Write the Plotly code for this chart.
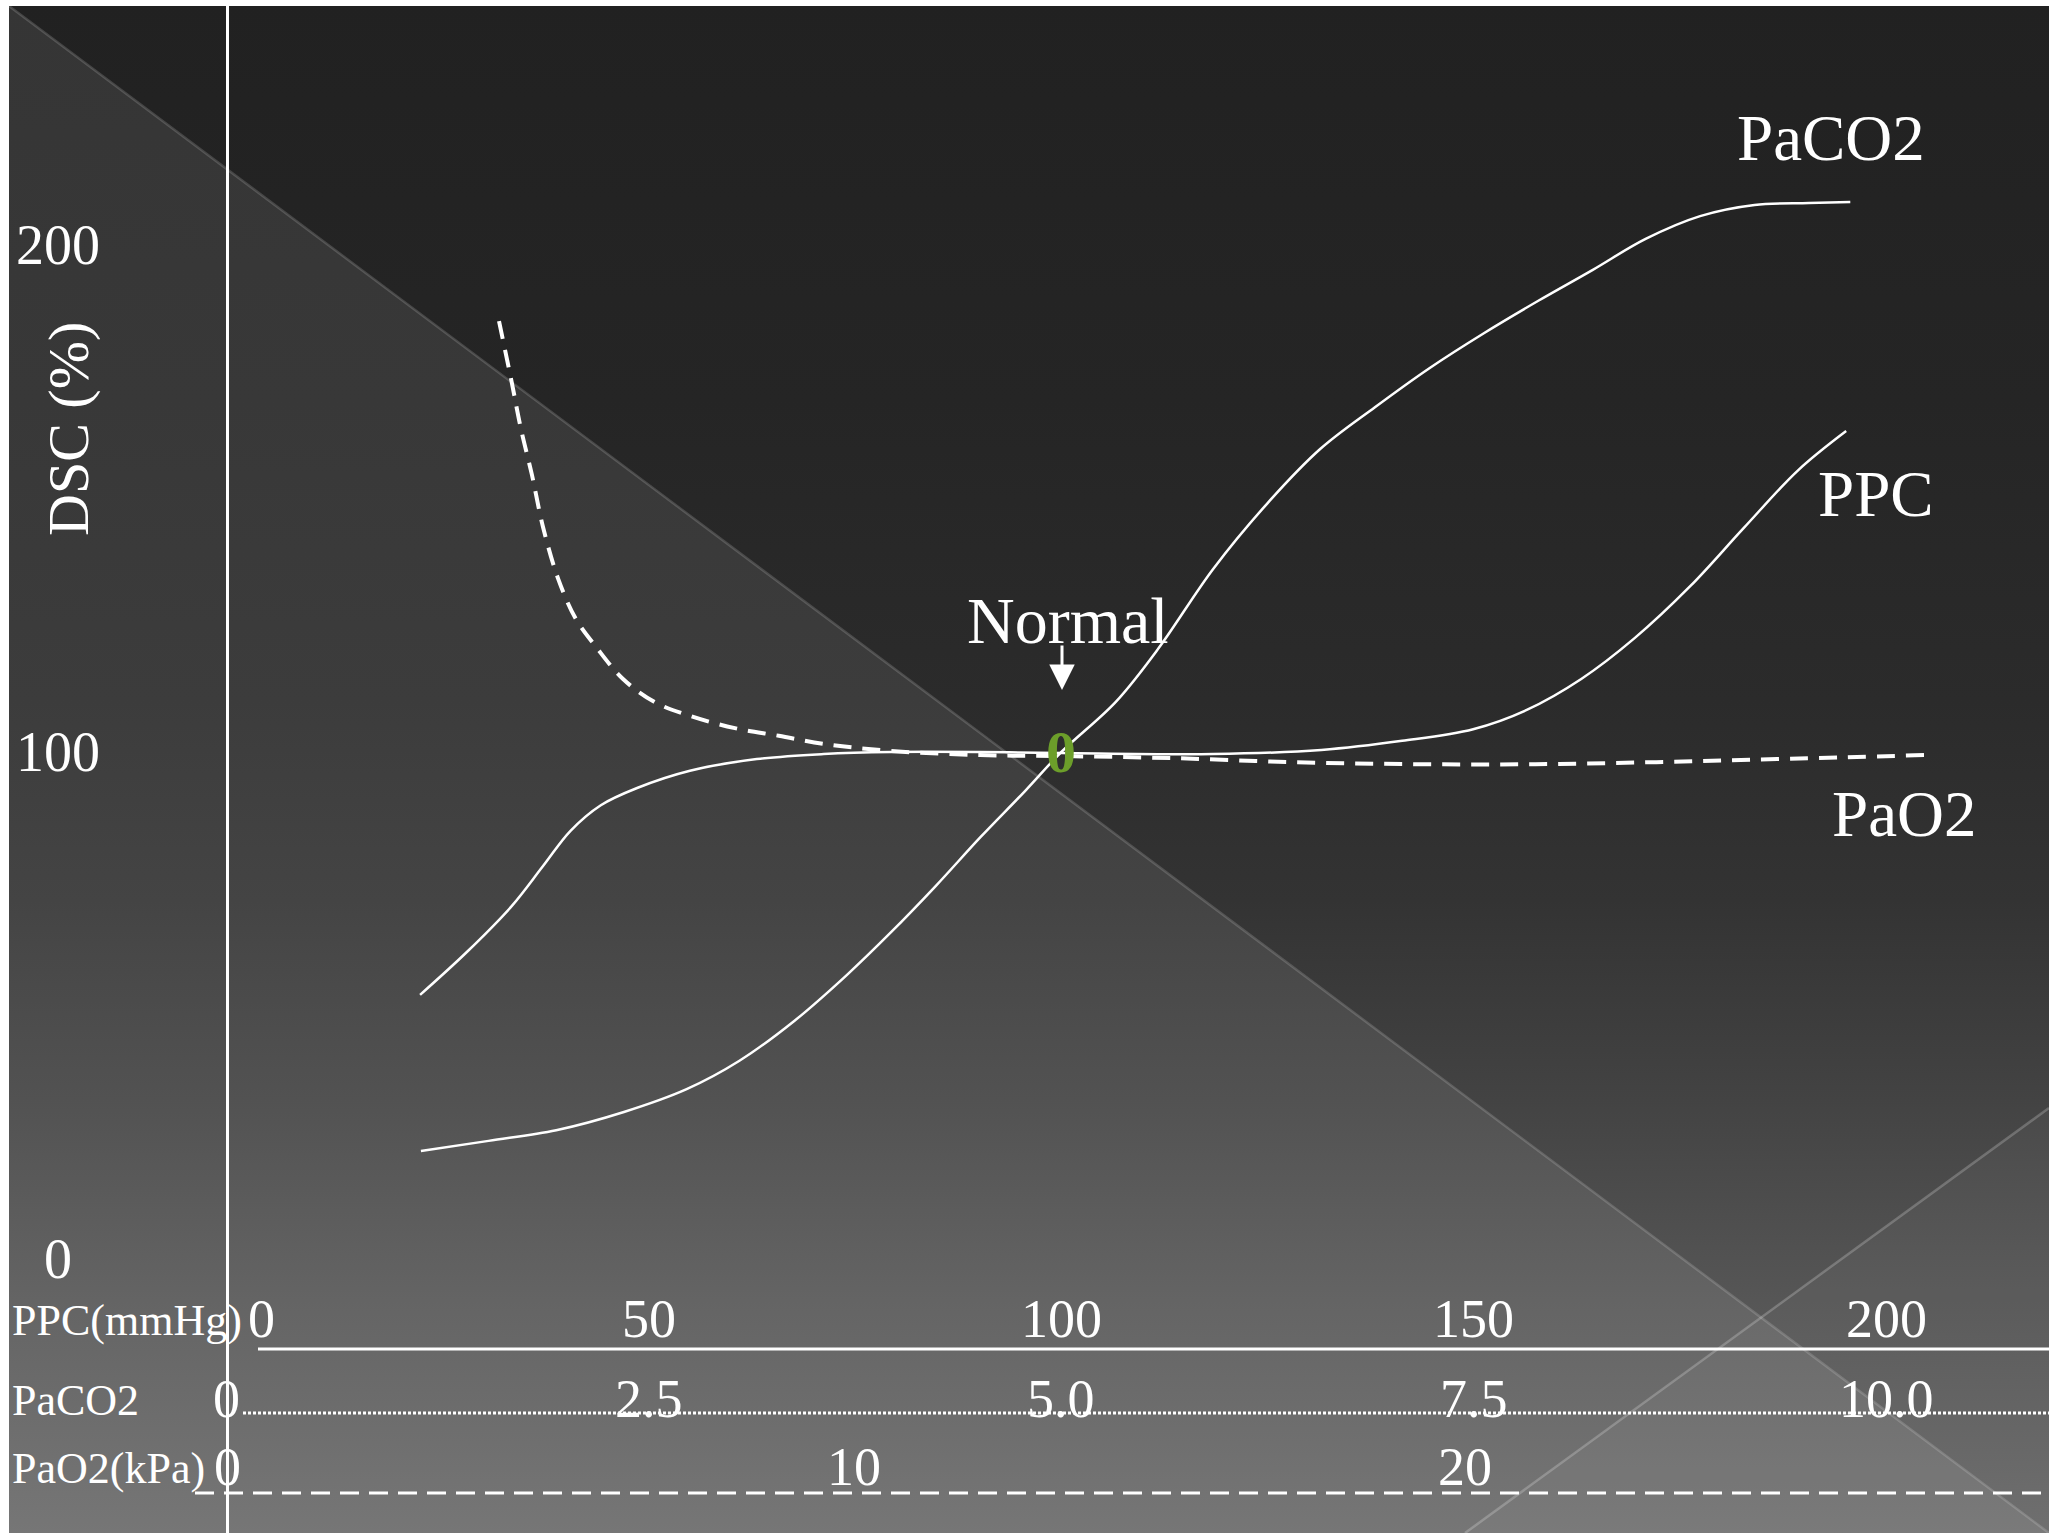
import plotly.graph_objects as go

W, H = 2060, 1533

# ---------------- data ----------------
# PaCO2 curve (x in kPa, y = DSC %)
paco2_kpa = [1.12, 1.53, 1.94, 2.35, 2.73, 3.05, 3.38, 3.70, 3.97, 4.24, 4.51, 4.78,
             5.00, 5.33, 5.59, 5.92, 6.25, 6.57, 6.90, 7.23, 7.56, 7.89, 8.22, 8.54,
             8.87, 9.20, 9.53, 9.78]
paco2_dsc = [21.3, 23.3, 25.4, 29.0, 33.5, 39.1, 46.9, 56.0, 64.5, 73.6, 83.2, 92.3,
             100.0, 109.9, 120.5, 136.1, 149.1, 159.8, 168.0, 175.7, 182.6, 189.0, 195.1, 201.2,
             205.7, 207.9, 208.3, 208.5]

# PPC curve (x in mmHg)
ppc_mmhg = [22.3, 28.0, 33.4, 37.2, 40.5, 44.2, 48.6, 55.0, 63.1, 71.2, 79.4, 90.1,
            100.0, 118.4, 131.5, 141.3, 149.9, 156.4, 163.0, 169.5, 176.2, 182.7, 189.3, 195.1]
ppc_dsc = [52.1, 60.6, 69.6, 77.5, 84.4, 89.5, 92.9, 96.3, 98.6, 99.6, 100.0, 100.0,
           99.8, 99.6, 100.4, 102.2, 104.5, 108.3, 114.4, 122.5, 132.7, 144.2, 155.6, 163.3]

# PaO2 curve (x in kPa)
pao2_kpa = [4.19, 4.40, 4.55, 4.73, 4.91, 5.16, 5.45, 5.78, 6.22, 6.73, 7.32, 8.05,
            8.77, 9.51, 10.61, 12.06, 13.39, 15.19, 17.17, 19.17, 21.15, 23.13, 25.11, 27.53]
pao2_dsc = [185.0, 172.8, 163.7, 154.6, 144.4, 134.1, 126.2, 120.7, 114.4, 109.9, 107.1, 104.7,
            103.2, 101.6, 100.2, 99.4, 99.2, 98.8, 98.0, 97.6, 97.6, 98.0, 98.6, 99.4]

normal_point = [100, 100]  # PPC mmHg, DSC %

dsc_ticks = [0, 100, 200]
ppc_ticks = [0, 50, 100, 150, 200]
paco2_ticks = [0, 2.5, 5.0, 7.5, 10.0]
paco2_ticktext = ["0", "2.5", "5.0", "7.5", "10.0"]
pao2_ticks = [0, 10, 20]

axis_names = ["PPC(mmHg)", "PaCO2", "PaO2(kPa)"]
curve_names = ["PaCO2", "PPC", "PaO2"]

# ---------------- axis ranges (pixel calibration of the slide) ----------------
PPC_RANGE = [-28.60, 221.01]
PACO2_RANGE = [PPC_RANGE[0] / 20, PPC_RANGE[1] / 20]
PAO2_RANGE = [-3.977, 29.738]
DSC_RANGE = [-54.04, 248.32]

SERIF = "Liberation Serif, Times New Roman, serif"


def py(v):
    """pixel row (from top) -> value on the background pixel axis"""
    return H - v


fig = go.Figure()

# ---------------- slide background ----------------
SL, ST, SR = 9, 6, 2049


def grad(stops):
    out = []
    for row, g in sorted(stops, key=lambda s: -s[0]):
        out.append([1 - row / H, "rgb(%d,%d,%d)" % (g, g, g)])
    return out


dark = grad([(0, 0x21), (400, 0x25), (700, 0x2b), (900, 0x33), (1100, 0x43), (1300, 0x56), (1533, 0x6a)])
light = grad([(0, 0x35), (400, 0x38), (700, 0x3c), (900, 0x44), (1100, 0x52), (1300, 0x64), (1533, 0x76)])

fig.add_trace(go.Scatter(
    x=[SL, SR, SR, SL, SL], y=[py(ST), py(ST), py(H), py(H), py(ST)],
    mode="lines", fill="toself", line=dict(width=0),
    fillgradient=dict(type="vertical", colorscale=dark, start=0, stop=H),
    hoverinfo="skip", showlegend=False))
fig.add_trace(go.Scatter(
    x=[SL, SR, SL, SL], y=[py(ST), py(H), py(H), py(ST)],
    mode="lines", fill="toself", line=dict(width=0),
    fillgradient=dict(type="vertical", colorscale=light, start=0, stop=H),
    hoverinfo="skip", showlegend=False))
fig.add_trace(go.Scatter(
    x=[1465, SR, SR, 1465], y=[py(H), py(1108), py(H), py(H)],
    mode="lines", fill="toself", line=dict(width=0),
    fillcolor="rgba(255,255,255,0.035)", hoverinfo="skip", showlegend=False))
# decorative diagonals
fig.add_trace(go.Scatter(x=[SL, SR], y=[py(ST), py(H)], mode="lines",
                         line=dict(color="rgba(255,255,255,0.16)", width=2.5),
                         hoverinfo="skip", showlegend=False))
fig.add_trace(go.Scatter(x=[1465, SR], y=[py(H), py(1108)], mode="lines",
                         line=dict(color="rgba(255,255,255,0.22)", width=2.5),
                         hoverinfo="skip", showlegend=False))
# the three horizontal scale lines
fig.add_trace(go.Scatter(x=[258, SR], y=[py(1349), py(1349)], mode="lines",
                         line=dict(color="white", width=3), hoverinfo="skip", showlegend=False))
fig.add_trace(go.Scatter(x=[243, SR], y=[py(1413), py(1413)], mode="lines",
                         line=dict(color="white", width=3, dash="3px,2px"),
                         hoverinfo="skip", showlegend=False))
fig.add_trace(go.Scatter(x=[195, SR], y=[py(1493), py(1493)], mode="lines",
                         line=dict(color="white", width=3, dash="19px,10px"),
                         hoverinfo="skip", showlegend=False))

# ---------------- curves ----------------
fig.add_trace(go.Scatter(x=paco2_kpa, y=paco2_dsc, xaxis="x3", yaxis="y2", mode="lines",
                         line=dict(color="white", width=2.5, shape="spline", smoothing=1.0),
                         name="PaCO2", showlegend=False))
fig.add_trace(go.Scatter(x=ppc_mmhg, y=ppc_dsc, xaxis="x2", yaxis="y2", mode="lines",
                         line=dict(color="white", width=2.5, shape="spline", smoothing=1.0),
                         name="PPC", showlegend=False))
fig.add_trace(go.Scatter(x=pao2_kpa, y=pao2_dsc, xaxis="x4", yaxis="y2", mode="lines",
                         line=dict(color="white", width=4, shape="spline", smoothing=1.0,
                                   dash="18px,11px"),
                         name="PaO2", showlegend=False))

# ---------------- annotations ----------------
ann = []


def txt(text, x, y, size, xref="x", yref="y", xanchor="center", color="white", **kw):
    ann.append(dict(text=text, x=x, y=y, xref=xref, yref=yref, xanchor=xanchor,
                    yanchor="middle", showarrow=False,
                    font=dict(family=SERIF, size=size, color=color), **kw))


for v in dsc_ticks:
    txt(str(v), 58, v, 56, yref="y2")
for v in ppc_ticks:
    if v == 0:
        txt(str(v), v, py(1319), 54, xref="x2", xanchor="left", xshift=10)
    else:
        txt(str(v), v, py(1319), 54, xref="x2")
for v, t in zip(paco2_ticks, paco2_ticktext):
    if v == 0:
        txt(t, v, py(1399), 54, xref="x3", xanchor="right", xshift=6)
    else:
        txt(t, v, py(1399), 54, xref="x3")
for v in pao2_ticks:
    txt(str(v), v, py(1467), 54, xref="x4", xanchor="right" if v == 0 else "center")

for name, row in zip(axis_names, [1320, 1400, 1468]):
    txt(name, 10, py(row), 44, xanchor="left")

txt("DSC (%)", 68, py(429), 58, textangle=-90)

for name, (cx, cy) in zip(curve_names, [(1831, 138), (1876, 494), (1904, 814)]):
    txt(name, cx, py(cy), 65)

txt("Normal", 1068, py(620), 66)
ann.append(dict(text="", x=1062, y=py(690), xref="x", yref="y", showarrow=True,
                ax=0, ay=-46, arrowhead=2, arrowsize=1.7, arrowwidth=3, arrowcolor="white"))
ann.append(dict(text="<b>0</b>", x=normal_point[0], y=normal_point[1], xref="x2", yref="y2",
                showarrow=False, xanchor="center", yanchor="middle",
                font=dict(family=SERIF, size=60, color="#6c9e2a")))

fig.update_layout(
    width=W, height=H,
    margin=dict(l=0, r=0, t=0, b=0),
    paper_bgcolor="white", plot_bgcolor="white",
    showlegend=False,
    annotations=ann,
    xaxis=dict(range=[0, W], visible=False, fixedrange=True),
    yaxis=dict(range=[0, H], visible=False, fixedrange=True),
    xaxis2=dict(range=PPC_RANGE, overlaying="x", anchor="y2", visible=False),
    xaxis3=dict(range=PACO2_RANGE, overlaying="x", anchor="y2", visible=False),
    xaxis4=dict(range=PAO2_RANGE, overlaying="x", anchor="y2", visible=False),
    yaxis2=dict(range=DSC_RANGE, overlaying="y", anchor="free", position=227 / W,
                showline=True, linecolor="white", linewidth=2.5, showticklabels=False,
                ticks="", showgrid=False, zeroline=False, title=None),
)

fig.write_html("out.html", config={"displayModeBar": False},
               post_script="document.body.style.margin='0';document.body.style.overflow='hidden';")
